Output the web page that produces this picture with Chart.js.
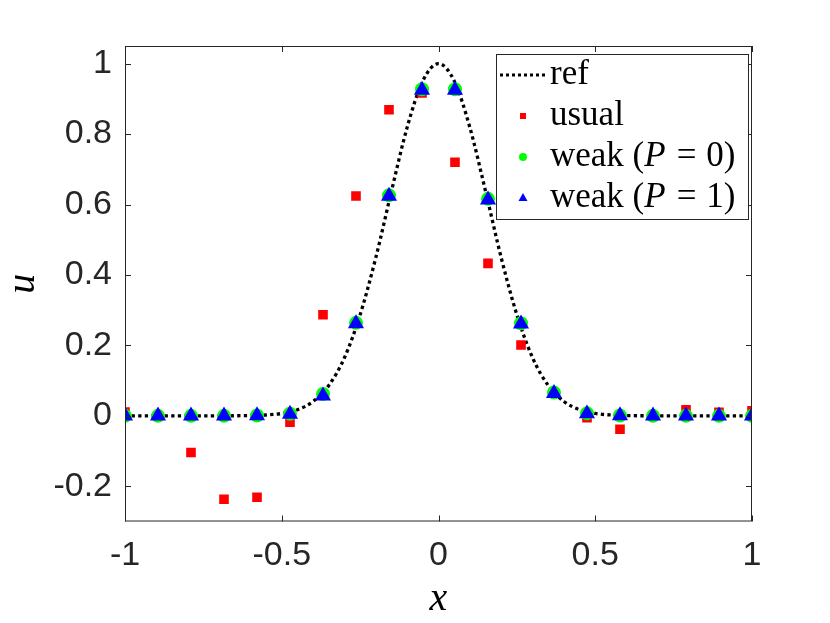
<!DOCTYPE html>
<html>
<head>
<meta charset="utf-8">
<script src="https://cdn.jsdelivr.net/npm/chart.js@4/dist/chart.umd.min.js"></script>
<style>
html,body{margin:0;padding:0;background:#fff;}
#c{display:block;}
</style>
</head>
<body>
<canvas id="c" width="830" height="623"></canvas>
<script>
// ---- data ----
const refX = [-1,-0.95,-0.9,-0.85,-0.8,-0.75,-0.7,-0.65,-0.6,-0.55,-0.5,-0.45,-0.4,-0.35,-0.3,-0.25,-0.2,-0.15,-0.1,-0.05,0,
              0.05,0.1,0.15,0.2,0.25,0.3,0.35,0.4,0.45,0.5,0.55,0.6,0.65,0.7,0.75,0.8,0.85,0.9,0.95,1];
const refU = [0,0,0,0,0,0,0,0.0002,0.0007,0.0024,0.0067,0.0174,0.0408,0.0863,0.165,0.287,0.449,0.638,0.819,0.951,1,
              0.951,0.819,0.638,0.449,0.287,0.165,0.0863,0.0408,0.0174,0.0067,0.0024,0.0007,0.0002,0,0,0,0,0,0,0];
const nodeX = [-1,-0.8947,-0.7895,-0.6842,-0.5789,-0.4737,-0.3684,-0.2632,-0.1579,-0.0526,
               0.0526,0.1579,0.2632,0.3684,0.4737,0.5789,0.6842,0.7895,0.8947,1];
const usualU = [0.011,0.0,-0.104,-0.237,-0.231,-0.018,0.287,0.624,0.869,0.917,
                0.72,0.433,0.201,0.065,-0.005,-0.038,0.0,0.017,0.01,0.014];
const weak0U = [0,0,0,0,0.001,0.006,0.062,0.264,0.626,0.927,
                0.927,0.616,0.263,0.066,0.007,0.001,0,0,0,0];
const weak1U = [0,0,0,0,0.001,0.005,0.057,0.262,0.624,0.925,
                0.925,0.613,0.261,0.064,0.006,0.001,0,0,0,0];
const xTicks = [-1,-0.5,0,0.5,1];
const yTicks = [-0.2,0,0.2,0.4,0.6,0.8,1];
const xTickLabels = ['-1','-0.5','0','0.5','1'];
const yTickLabels = ['-0.2','0','0.2','0.4','0.6','0.8','1'];
const seriesNames = ['ref','usual','weak','weak'];

const pts = (xs, ys) => xs.map((x, i) => ({x: x, y: ys[i]}));
const AXC = '#262626';

const framePlugin = {
  id: 'frame',
  afterDatasetsDraw(chart) {
    const ctx = chart.ctx, a = chart.chartArea;
    const xs = chart.scales.x, ys = chart.scales.y;
    ctx.save();
    ctx.strokeStyle = AXC;
    ctx.lineWidth = 1;
    ctx.strokeRect(a.left + 0.5, a.top + 0.5, a.right - a.left - 1, a.bottom - a.top - 1);
    const tl = 6;
    ctx.beginPath();
    xTicks.forEach(v => {
      const px = Math.round(xs.getPixelForValue(v)) + 0.5;
      ctx.moveTo(px, a.bottom); ctx.lineTo(px, a.bottom - tl);
      ctx.moveTo(px, a.top); ctx.lineTo(px, a.top + tl);
    });
    yTicks.forEach(v => {
      const py = Math.round(ys.getPixelForValue(v)) + 0.5;
      ctx.moveTo(a.left, py); ctx.lineTo(a.left + tl, py);
      ctx.moveTo(a.right, py); ctx.lineTo(a.right - tl, py);
    });
    ctx.stroke();

    // legend
    const L = 496, T = 54, W = 252, H = 165;
    ctx.fillStyle = '#fff';
    ctx.fillRect(L, T, W, H);
    ctx.strokeStyle = AXC;
    ctx.strokeRect(L + 0.5, T + 0.5, W, H);
    const rows = [75, 116, 157, 198];
    const mx = 523, tx = 550;
    ctx.save();
    ctx.strokeStyle = '#000';
    ctx.lineWidth = 3;
    ctx.setLineDash([3, 3]);
    ctx.beginPath();
    ctx.moveTo(500, rows[0]); ctx.lineTo(546, rows[0]);
    ctx.stroke();
    ctx.restore();
    ctx.fillStyle = '#ff0000';
    ctx.fillRect(mx - 3, rows[1] - 3, 6, 6);
    ctx.fillStyle = '#00ff00';
    ctx.beginPath(); ctx.arc(mx, rows[2], 4, 0, Math.PI * 2); ctx.fill();
    ctx.fillStyle = '#0000ff';
    ctx.beginPath();
    ctx.moveTo(mx, rows[3] - 5); ctx.lineTo(mx + 4.5, rows[3] + 3); ctx.lineTo(mx - 4.5, rows[3] + 3);
    ctx.closePath(); ctx.fill();

    ctx.fillStyle = '#000';
    ctx.textBaseline = 'alphabetic';
    ctx.textAlign = 'left';
    const normal = '35px "Liberation Serif"', ital = 'italic 35px "Liberation Serif"';
    const base = r => r + 9;
    ctx.font = normal;
    ctx.fillText(seriesNames[0], tx, base(rows[0]));
    ctx.fillText(seriesNames[1], tx, base(rows[1]));
    const drawWeak = (row, val) => {
      let x = tx;
      const parts = [[seriesNames[2] + ' (', normal, 0], ['P', ital, 11], ['=', normal, 10], [val + ')', normal, 0]];
      parts.forEach(p => {
        ctx.font = p[1];
        ctx.fillText(p[0], x, base(row));
        x += ctx.measureText(p[0]).width + p[2];
      });
    };
    drawWeak(rows[2], '0');
    drawWeak(rows[3], '1');

    // axis titles
    ctx.font = 'italic 40px "Liberation Serif"';
    ctx.textAlign = 'center';
    ctx.fillText('x', (a.left + a.right) / 2, 610);
    ctx.save();
    ctx.translate(34, (a.top + a.bottom) / 2);
    ctx.rotate(-Math.PI / 2);
    ctx.fillText('u', 0, 0);
    ctx.restore();
    ctx.restore();
  }
};

new Chart(document.getElementById('c'), {
  type: 'scatter',
  data: {
    datasets: [
      {
        label: 'ref', type: 'line', data: pts(refX, refU), order: 4,
        borderColor: '#000', borderWidth: 3.3, borderDash: [3.3, 3.3],
        pointRadius: 0, fill: false, cubicInterpolationMode: 'monotone', showLine: true
      },
      {
        label: 'usual', data: pts(nodeX, usualU), order: 3,
        pointStyle: 'rect', pointRadius: 6.8, backgroundColor: '#ff0000', borderColor: '#ff0000', borderWidth: 0
      },
      {
        label: 'weak (P = 0)', data: pts(nodeX, weak0U), order: 2,
        pointStyle: 'circle', pointRadius: 7, backgroundColor: '#00ff00', borderColor: '#00ff00', borderWidth: 0
      },
      {
        label: 'weak (P = 1)', data: pts(nodeX, weak1U), order: 1,
        pointStyle: 'triangle', pointRadius: 9.3, backgroundColor: '#0000ff', borderColor: '#0000ff', borderWidth: 0
      }
    ]
  },
  options: {
    responsive: false,
    animation: false,
    devicePixelRatio: 1,
    layout: { padding: { left: 0, top: 46, right: 78, bottom: 0 } },
    plugins: { legend: { display: false }, tooltip: { enabled: false } },
    scales: {
      x: {
        type: 'linear', min: -1, max: 1,
        afterBuildTicks: s => { s.ticks = xTicks.map(v => ({ value: v })); },
        afterFit: s => { s.height = 101.5; },
        grid: { display: false, drawTicks: false },
        border: { display: false },
        ticks: {
          padding: 14, color: AXC, maxRotation: 0, autoSkip: false,
          font: { family: '"Liberation Sans", Arial, sans-serif', size: 34 },
          callback: (v, i) => xTickLabels[i]
        }
      },
      y: {
        type: 'linear', min: -0.3, max: 1.05,
        afterBuildTicks: s => { s.ticks = yTicks.map(v => ({ value: v })); },
        afterFit: s => { s.width = 125; },
        grid: { display: false, drawTicks: false },
        border: { display: false },
        ticks: {
          padding: 13, color: AXC, autoSkip: false,
          font: { family: '"Liberation Sans", Arial, sans-serif', size: 34 },
          callback: (v, i) => yTickLabels[i]
        }
      }
    }
  },
  plugins: [framePlugin]
});
</script>
</body>
</html>
